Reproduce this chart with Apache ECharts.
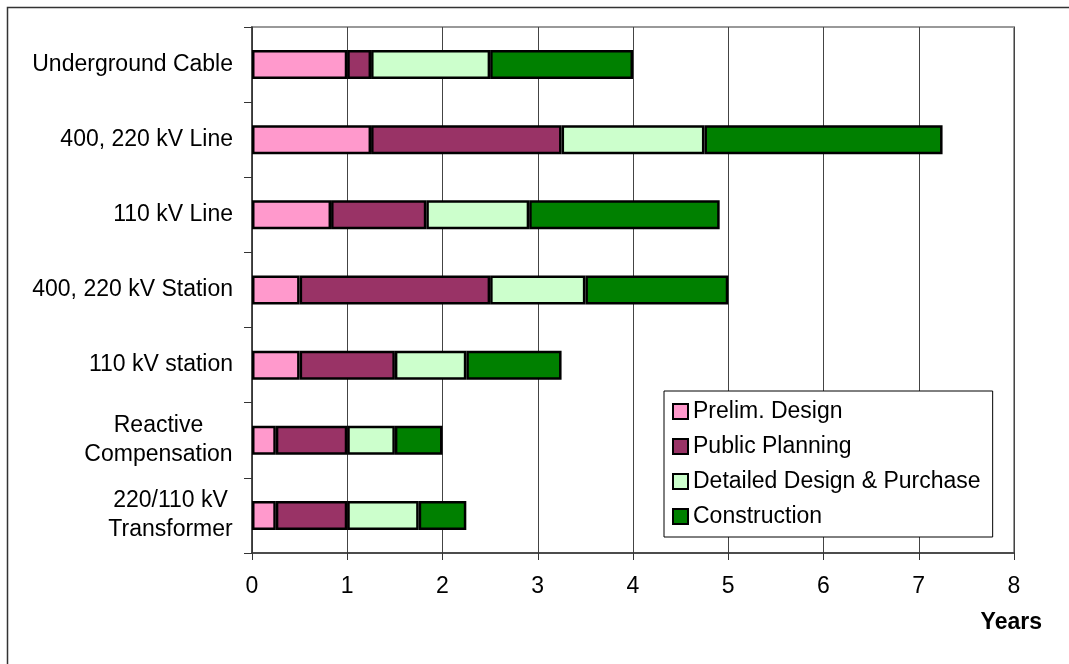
<!DOCTYPE html>
<html><head><meta charset="utf-8">
<script src="https://cdn.jsdelivr.net/npm/echarts@6/dist/echarts.min.js"></script>
<style>html,body{margin:0;padding:0;background:#fff}#c{width:1069px;height:664px}</style>
</head><body><div id="c"></div>
<script>
const categories = ['Underground Cable', '400, 220 kV Line', '110 kV Line', '400, 220 kV Station', '110 kV station', 'Reactive\nCompensation', '220/110 kV\nTransformer'];
const seriesNames = ['Prelim. Design', 'Public Planning', 'Detailed Design & Purchase', 'Construction'];
const prelimDesign = [1, 1.25, 0.83, 0.5, 0.5, 0.25, 0.25];
const publicPlanning = [0.25, 2, 1, 2, 1, 0.75, 0.75];
const detailedDesign = [1.25, 1.5, 1.08, 1, 0.75, 0.5, 0.75];
const construction = [1.5, 2.5, 2, 1.5, 1, 0.5, 0.5];
const xTicks = [0, 1, 2, 3, 4, 5, 6, 7, 8];
const axisTitle = 'Years';

const colors = ['#FF99CC', '#993366', '#CCFFCC', '#008000'];
const values = [prelimDesign, publicPlanning, detailedDesign, construction];
const FONT = '"Liberation Sans", Arial, sans-serif';
const FS = 23;

// measure multi-line label widths so lines can be centred within a right-aligned block
const mctx = document.createElement('canvas').getContext('2d');
mctx.font = FS + 'px ' + FONT;
const rich = {};
const labelKey = {};
categories.forEach((c, i) => {
  if (c.indexOf('\n') >= 0) {
    const w = Math.max(...c.split('\n').map(s => mctx.measureText(s).width));
    rich['m' + i] = {fontSize: FS, width: Math.ceil(w), align: 'center', color: '#000', fontFamily: FONT, lineHeight: 29};
    labelKey[c] = 'm' + i;
  }
});

const chart = echarts.init(document.getElementById('c'), null, {renderer: 'canvas'});
chart.setOption({
  animation: false,
  backgroundColor: '#fff',
  textStyle: {fontFamily: FONT},
  grid: {left: 252, top: 27, right: 55, bottom: 111, show: true, borderColor: '#999', borderWidth: 2, containLabel: false},
  legend: {
    left: 664, top: 391, orient: 'vertical',
    backgroundColor: '#fff', borderColor: '#000', borderWidth: 1,
    padding: [9, 12, 9, 8], itemWidth: 15, itemHeight: 15, itemGap: 12,
    icon: 'rect',
    textStyle: {fontSize: FS, color: '#000', fontFamily: FONT},
    data: seriesNames
  },
  xAxis: {
    type: 'value', min: xTicks[0], max: xTicks[xTicks.length - 1], interval: 1,
    axisLine: {show: true, lineStyle: {color: '#333', width: 1.5}},
    axisTick: {show: true, length: 7, lineStyle: {color: '#333'}},
    axisLabel: {fontSize: FS, color: '#000', margin: 22, fontFamily: FONT},
    splitLine: {show: true, lineStyle: {color: '#444', width: 1}}
  },
  yAxis: {
    type: 'category', data: categories, inverse: true,
    axisLine: {show: true, lineStyle: {color: '#333', width: 1.5}},
    axisTick: {show: true, length: 8, alignWithLabel: false, lineStyle: {color: '#333'}},
    axisLabel: {
      fontSize: FS, color: '#000', margin: 19, fontFamily: FONT, lineHeight: 29,
      formatter: function (v) {
        const k = labelKey[v];
        if (k) return v.split('\n').map(s => '{' + k + '|' + s + '}').join('\n');
        return v;
      },
      rich: rich
    }
  },
  graphic: [
    {type: 'rect', shape: {x: 7.5, y: 7.5, width: 1100, height: 700}, style: {fill: 'none', stroke: '#333', lineWidth: 1.5}, silent: true},
    {type: 'text', right: 27, top: 611, style: {text: axisTitle, font: 'bold ' + FS + 'px ' + FONT, fill: '#000'}}
  ],
  series: seriesNames.map((n, i) => ({
    name: n, type: 'bar', stack: 'total', barWidth: 29,
    itemStyle: {color: colors[i], borderColor: '#000', borderWidth: 2.5},
    data: values[i]
  }))
});
</script></body></html>
